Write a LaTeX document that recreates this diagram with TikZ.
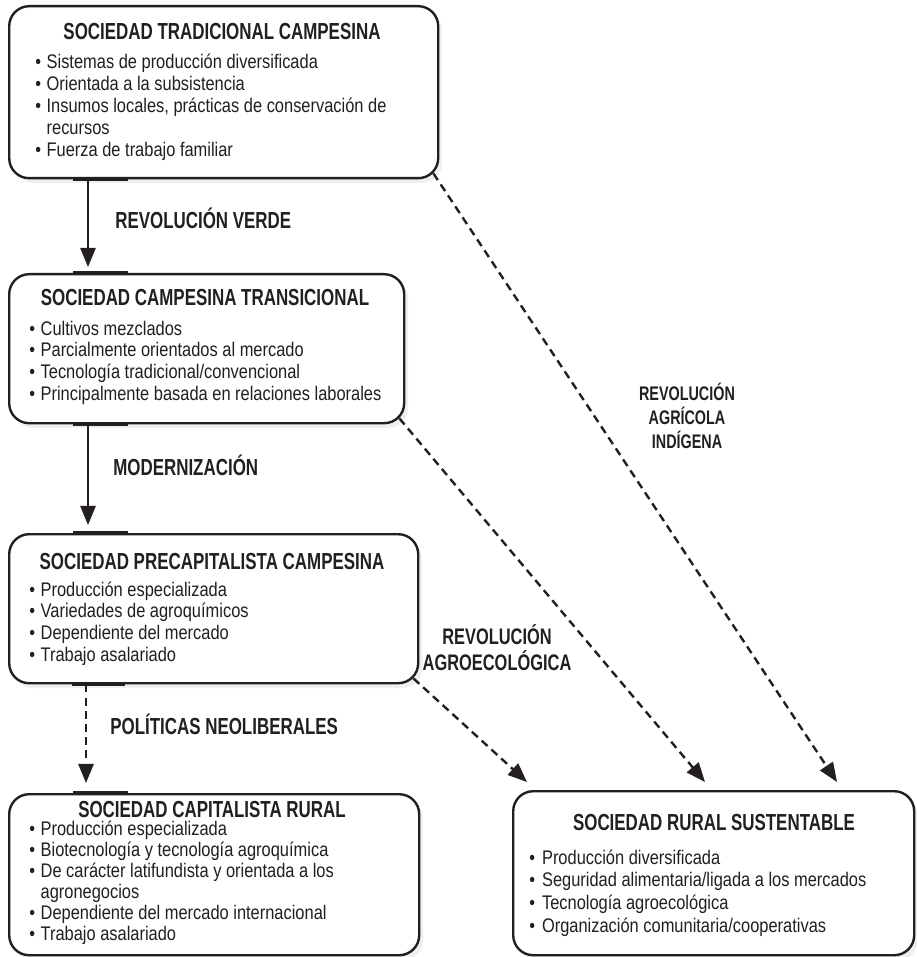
\documentclass[tikz,border=0pt]{standalone}
\usepackage{fontspec}
\setmainfont{Liberation Sans}[FakeStretch=0.835]
\newfontfamily\titfont{Liberation Sans}[FakeStretch=0.73]
\usepackage{tikz}
\usetikzlibrary{positioning,arrows.meta,shadows}

\definecolor{tinta}{HTML}{231F20}
\newdimen\pxu \pxu=0.25mm

\tikzset{
  caja/.style={draw=tinta, line width=1.7pt, rounded corners=5mm, fill=white, inner sep=0pt, anchor=north west,
    drop shadow={fill=black!12, shadow xshift=1mm, shadow yshift=-1.2mm}},
  titulo/.style={font=\titfont\bfseries\fontsize{16.5}{18}\selectfont, text=tinta, inner sep=0pt, anchor=base},
  lista/.style={font=\fontsize{14}{15.6}\selectfont, text=tinta, inner sep=0pt, anchor=base west},
  etiqueta/.style={font=\titfont\bfseries\fontsize{16.5}{16.2}\selectfont, text=tinta, inner sep=0pt, anchor=base west},
  flujo/.style={draw=tinta, line width=1.7pt, -{Triangle[length=4.8mm, width=3.8mm]}},
  flujod/.style={flujo, dash pattern=on 2mm off 1.3mm},
  marca/.style={draw=tinta, line width=2.5pt}
}

\begin{document}
\begin{tikzpicture}[x=0.25mm, y=-0.25mm]
\useasboundingbox (0,0) rectangle (916,957);

\node[caja, minimum width=429*\pxu, minimum height=172*\pxu] (b1) at (8,5) {};
\node[caja, minimum width=395*\pxu, minimum height=149*\pxu] (b2) at (8,273) {};
\node[caja, minimum width=409*\pxu, minimum height=149*\pxu] (b3) at (8,533) {};
\node[caja, minimum width=410*\pxu, minimum height=161*\pxu] (b4) at (8,793) {};
\node[caja, minimum width=401*\pxu, minimum height=164*\pxu] (b5) at (512,790) {};

\node[titulo] (t1) at (222,40) {SOCIEDAD TRADICIONAL CAMPESINA};
\node[titulo] (t2) at (205,305) {SOCIEDAD CAMPESINA TRANSICIONAL};
\node[titulo] (t3) at (212,569) {SOCIEDAD PRECAPITALISTA CAMPESINA};
\node[titulo] (t4) at (212,817) {SOCIEDAD CAPITALISTA RURAL};
\node[titulo] (t5) at (714,830) {SOCIEDAD RURAL SUSTENTABLE};

\node[lista] (l1) at (35,69) {\begin{tabular}[t]{@{}l@{\hspace{4pt}}l@{}}
•&Sistemas de producción diversificada\\
•&Orientada a la subsistencia\\
•&Insumos locales, prácticas de conservación de\\
&recursos\\
•&Fuerza de trabajo familiar
\end{tabular}};
\node[lista] (l2) at (29,335) {\begin{tabular}[t]{@{}l@{\hspace{4pt}}l@{}}
•&Cultivos mezclados\\
•&Parcialmente orientados al mercado\\
•&Tecnología tradicional/convencional\\
•&Principalmente basada en relaciones laborales
\end{tabular}};
\node[lista] (l3) at (29,596) {\begin{tabular}[t]{@{}l@{\hspace{4pt}}l@{}}
•&Producción especializada\\
•&Variedades de agroquímicos\\
•&Dependiente del mercado\\
•&Trabajo asalariado
\end{tabular}};
\node[lista] (l4) at (29,835) {\renewcommand\arraystretch{0.96}\begin{tabular}[t]{@{}l@{\hspace{4pt}}l@{}}
•&Producción especializada\\
•&Biotecnología y tecnología agroquímica\\
•&De carácter latifundista y orientada a los\\
&agronegocios\\
•&Dependiente del mercado internacional\\
•&Trabajo asalariado
\end{tabular}};
\node[lista] (l5) at (529,864) {\renewcommand\arraystretch{1.04}\begin{tabular}[t]{@{}l@{\hspace{5pt}}l@{}}
•&Producción diversificada\\
•&Seguridad alimentaria/ligada a los mercados\\
•&Tecnología agroecológica\\
•&Organización comunitaria/cooperativas
\end{tabular}};

\node[etiqueta] (e1) at (115,229) {REVOLUCIÓN VERDE};
\node[etiqueta] (e2) at (113,475) {MODERNIZACIÓN};
\node[etiqueta] (e3) at (110,734) {POLÍTICAS NEOLIBERALES};
\node[etiqueta, anchor=base, font=\titfont\bfseries\fontsize{14}{15.6}\selectfont] (e4) at (687,400)
  {\begin{tabular}[t]{@{}c@{}}REVOLUCIÓN\\AGRÍCOLA\\INDÍGENA\end{tabular}};
\node[etiqueta, anchor=base, font=\titfont\bfseries\fontsize{16}{16.3}\selectfont] (e5) at (497,644)
  {\begin{tabular}[t]{@{}c@{}}REVOLUCIÓN\\AGROECOLÓGICA\end{tabular}};

\draw[flujo] ([xshift=20mm]b1.south west) -- ([xshift=20mm, yshift=1.5mm]b2.north west);
\draw[flujo] ([xshift=20mm]b2.south west) -- ([xshift=20mm, yshift=2mm]b3.north west);
\draw[flujod] ([xshift=19.5mm]b3.south west) -- ([xshift=19.5mm, yshift=2.5mm]b4.north west);

\draw[flujod] ([shift={(-1.5mm,1.5mm)}]b1.south east) -- ([shift={(81.25mm,2mm)}]b5.north west);
\draw[flujod] ([shift={(-1.5mm,1.5mm)}]b2.south east) -- ([shift={(48.25mm,2mm)}]b5.north west);
\draw[flujod] ([shift={(-1.5mm,1.5mm)}]b3.south east) -- ([shift={(3.75mm,2mm)}]b5.north west);

\draw[marca] ([xshift=16.25mm]b1.south west) -- ([xshift=30mm]b1.south west);
\draw[marca] ([xshift=16.25mm]b2.north west) -- ([xshift=30mm]b2.north west);
\draw[marca] ([xshift=16.25mm]b2.south west) -- ([xshift=30mm]b2.south west);
\draw[marca] ([xshift=16.25mm]b3.north west) -- ([xshift=30mm]b3.north west);
\draw[marca] ([xshift=16mm]b3.south west) -- ([xshift=29.25mm]b3.south west);
\draw[marca] ([xshift=16.25mm]b4.north west) -- ([xshift=30mm]b4.north west);
\end{tikzpicture}
\end{document}
